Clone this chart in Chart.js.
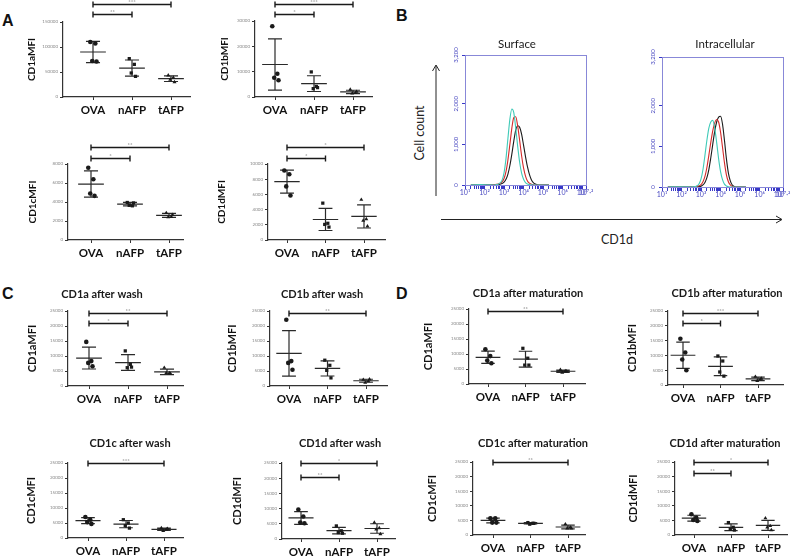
<!DOCTYPE html>
<html lang="en">
<head>
<meta charset="UTF-8">
<title>CD1 expression on DCs</title>
<script src="https://cdn.jsdelivr.net/npm/chart.js"></script>
<style>
  body { margin: 0; background: #fff; font-family: Lato, "Open Sans", sans-serif; }
  #fig { position: relative; width: 800px; height: 557px; overflow: hidden; }
  #fig canvas { position: absolute; left: 0; top: 0; }
  #fig svg { position: absolute; left: 0; top: 0; }
  .letter { position: absolute; font: bold 16px "Liberation Sans", Arial, sans-serif; line-height: 16px; color: #111; }
  .note { position: absolute; font-size: 12.5px; color: #222; white-space: nowrap; transform: translate(-50%, -50%); }
</style>
</head>
<body>
<div id="fig">
  <div class="letter" style="left:2px;top:13px">A</div>
  <div class="letter" style="left:396px;top:8px">B</div>
  <div class="letter" style="left:2px;top:286px">C</div>
  <div class="letter" style="left:396px;top:286px">D</div>
  <div class="note" style="left:419px;top:133px;transform:translate(-50%,-50%) rotate(-90deg)">Cell count</div>
  <div class="note" style="left:617px;top:239px">CD1d</div>
  <svg width="800" height="557">
    <line x1="436" y1="196" x2="436" y2="66" stroke="#222" stroke-width="1"/>
    <polyline points="432.5,71 436,65 439.5,71" fill="none" stroke="#222" stroke-width="1"/>
    <line x1="441" y1="219.5" x2="781" y2="219.5" stroke="#222" stroke-width="1"/>
    <polyline points="776,216 782,219.5 776,223" fill="none" stroke="#222" stroke-width="1"/>
  </svg>
</div>

<script>
// ---- data ----
const groups = ['OVA', 'nAFP', 'tAFP'];

// A: MFI of immature DCs
const cd1aMFI = [[110000, 107000, 72000, 71000], [76700, 65300, 48000, 41300], [43300, 38700, 34700, 30000]];
const cd1bMFI = [[27900, 9200, 7600, 6600], [9900, 4200, 3300, 3700], [2900, 1600, 1400, 2100]];
const cd1cMFI = [[7600, 6400, 4900, 4650], [3950, 3600, 3650, 3900], [2850, 2450, 2400, 2650]];
const cd1dMFI = [[9150, 8650, 7050, 5850], [4850, 2200, 2050, 1700], [5300, 2750, 2550, 1800]];

// C: after wash
const washCD1a = [[14700, 8300, 7700, 6600], [11700, 7200, 6100, 6300], [6100, 4300, 4300, 4100]];
const washCD1b = [[22100, 8300, 7700, 5400], [8600, 6900, 5200, 2700], [2100, 1600, 1100, 2200]];
const washCD1c = [[7000, 6100, 5300, 4700], [6100, 5000, 4100, 3300], [3300, 2800, 2400, 3100]];
const washCD1d = [[9700, 7400, 5400, 5200], [4300, 2700, 2100, 1900], [5400, 3600, 3200, 1600]];

// D: after maturation
const matCD1a = [[11600, 9300, 7800, 6900], [11900, 8600, 6300, 6300], [4700, 4300, 3800, 4200]];
const matCD1b = [[15600, 11000, 8600, 5000], [9800, 8100, 4400, 3000], [2800, 1900, 1400, 2200]];
const matCD1c = [[5700, 5700, 4250, 4250], [4250, 4000, 3700, 4000], [3700, 2650, 2300, 2300]];
const matCD1d = [[7100, 5950, 5150, 4800], [4250, 2650, 1950, 1700], [5750, 3100, 2650, 1700]];

// y ticks
const ticksCD1a = [0, 50000, 100000, 150000];
const ticksCD1b = [0, 10000, 20000, 30000];
const ticksCD1c = [0, 2000, 4000, 6000, 8000];
const ticksCD1d = [0, 2000, 4000, 6000, 8000, 10000];
const ticksLater = [0, 5000, 10000, 15000, 20000, 25000];

// significance brackets: [from, to, height (MFI), label]
const sigCD1a = [['OVA', 'tAFP', 186000, '***'], ['OVA', 'nAFP', 166000, '**']];
const sigCD1b = [['OVA', 'tAFP', 36700, '***'], ['OVA', 'nAFP', 32800, '*']];
const sigCD1c = [['OVA', 'tAFP', 9790, '**'], ['OVA', 'nAFP', 8630, '*']];
const sigCD1d = [['OVA', 'tAFP', 12240, '*'], ['OVA', 'nAFP', 10790, '*']];
const sigWashCD1a = [['OVA', 'tAFP', 24330, '**'], ['OVA', 'nAFP', 21000, '*']];
const sigWashCD1b = [['OVA', 'tAFP', 24330, '**']];
const sigWashCD1c = [['OVA', 'tAFP', 25000, '***']];
const sigWashCD1d = [['OVA', 'tAFP', 25000, '*'], ['OVA', 'nAFP', 20390, '**']];
const sigMatCD1a = [['OVA', 'tAFP', 24330, '**']];
const sigMatCD1b = [['OVA', 'tAFP', 24320, '***'], ['OVA', 'nAFP', 20950, '*']];
const sigMatCD1c = [['OVA', 'tAFP', 25000, '**']];
const sigMatCD1d = [['OVA', 'tAFP', 25000, '*'], ['OVA', 'nAFP', 21230, '**']];

const washTitles = ['CD1a after wash', 'CD1b after wash', 'CD1c after wash', 'CD1d after wash'];
const matTitles = ['CD1a after maturation', 'CD1b after maturation', 'CD1c after maturation', 'CD1d after maturation'];
const mfiTitles = ['CD1aMFI', 'CD1bMFI', 'CD1cMFI', 'CD1dMFI'];

// B: CD1d histograms (x = log10 fluorescence)
const histLog = [1.3, 1.8, 2.2, 2.5, 2.6, 2.7, 2.8, 2.9, 3.0, 3.1, 3.2, 3.3, 3.4, 3.5, 3.6, 3.7, 3.8, 3.9, 4.0, 4.1, 4.2, 4.3, 4.4, 4.5, 4.6, 4.7, 4.8, 4.9, 5.3];
const surfCyan  = [5, 10, 5, 0, 10, 20, 50, 120, 300, 650, 1150, 1620, 1870, 1780, 1400, 950, 560, 290, 140, 60, 25, 10, 5, 0, 0, 0, 0, 0, 0];
const surfRed   = [5, 8, 5, 5, 15, 25, 40, 80, 160, 330, 620, 1000, 1400, 1660, 1680, 1450, 1100, 720, 420, 220, 100, 45, 20, 8, 0, 0, 0, 0, 0];
const surfBlack = [0, 0, 5, 0, 5, 10, 20, 35, 70, 140, 270, 480, 760, 1080, 1350, 1460, 1420, 1250, 980, 700, 450, 260, 130, 60, 25, 8, 0, 0, 0];
const intraCyan  = [0, 5, 5, 0, 5, 10, 30, 80, 200, 430, 780, 1150, 1450, 1600, 1640, 1450, 1100, 700, 380, 180, 70, 25, 8, 0, 0, 0, 0, 0, 0];
const intraRed   = [0, 5, 5, 0, 2, 5, 15, 30, 60, 130, 260, 480, 780, 1100, 1380, 1580, 1660, 1600, 1350, 980, 600, 300, 130, 50, 15, 0, 0, 0, 0];
const intraBlack = [0, 0, 0, 0, 0, 0, 5, 10, 20, 50, 110, 230, 430, 720, 1050, 1370, 1600, 1720, 1740, 1550, 1150, 700, 350, 150, 50, 15, 0, 0, 0];
const countTicks = [0, 1000, 2000, 3200];
const decades = [1, 2, 3, 4, 5, 6, 7];

// ---- styling / layout ----
const font = 'Lato, "Open Sans", sans-serif';
const ink = '#1a1a1a';
const markers = ['circle', 'rect', 'triangle'];
const jitter = [-0.07, 0.06, -0.02, 0.09];
const curveColors = ['#3fcab8', '#d42a2a', '#1a1a1a'];
const axisBlue = '#4848c0';

Chart.defaults.font.family = font;

const layout = {
  A1: { ax: 63, top: 22, bottom: 97, right: 190, o: 93, t: 171, tx: 32 },
  A2: { ax: 255, top: 21, bottom: 97, right: 372, o: 275, t: 353, tx: 225 },
  A3: { ax: 68, top: 164, bottom: 240, right: 183, o: 91, t: 169, tx: 33 },
  A4: { ax: 268, top: 164, bottom: 240, right: 385, o: 287, t: 364, tx: 222 },
  C1: { ax: 68, top: 311, bottom: 386, right: 183, o: 89, t: 167, tx: 32, hx: 102, hy: 294 },
  C2: { ax: 270, top: 311, bottom: 386, right: 387, o: 289, t: 366, tx: 232, hx: 322, hy: 294 },
  C3: { ax: 68, top: 463, bottom: 538, right: 183, o: 88, t: 164, tx: 31, hx: 130, hy: 443 },
  C4: { ax: 282, top: 463, bottom: 539, right: 395, o: 301, t: 377, tx: 237, hx: 340, hy: 443 },
  D1: { ax: 469, top: 309, bottom: 384, right: 585, o: 488, t: 563, tx: 428, hx: 528, hy: 293 },
  D2: { ax: 668, top: 311, bottom: 385, right: 783, o: 683, t: 758, tx: 632, hx: 727, hy: 293 },
  D3: { ax: 473, top: 462, bottom: 535, right: 585, o: 493, t: 568, tx: 432, hx: 533, hy: 443 },
  D4: { ax: 675, top: 462, bottom: 535, right: 787, o: 694, t: 768, tx: 633, hx: 725, hy: 443 }
};

function addCanvas() {
  const c = document.createElement('canvas');
  c.width = 800; c.height = 557;
  document.getElementById('fig').appendChild(c);
  return c;
}

// titles, brackets, frames, rotated tick labels
function extras(o) {
  return {
    id: 'extras',
    afterDraw(chart) {
      const ctx = chart.ctx, xs = chart.scales.x, ys = chart.scales.y, a = chart.chartArea;
      ctx.save();
      if (o.box) {
        ctx.strokeStyle = o.box; ctx.lineWidth = 1;
        ctx.strokeRect(Math.round(a.left) + 0.5, Math.round(a.top) + 0.5, Math.round(a.width), Math.round(a.height));
      }
      if (o.yLabels) {
        ctx.font = '6px ' + font; ctx.fillStyle = axisBlue;
        ctx.textAlign = 'center'; ctx.textBaseline = 'middle';
        ys.ticks.forEach(t => {
          ctx.save();
          ctx.translate(a.left - 9, ys.getPixelForValue(t.value));
          ctx.rotate(-Math.PI / 2);
          ctx.fillText(t.value.toLocaleString('en-US'), 0, 0);
          ctx.restore();
        });
      }
      if (o.title) {
        ctx.font = o.titleFont; ctx.fillStyle = ink;
        ctx.textAlign = 'center'; ctx.textBaseline = 'middle';
        ctx.fillText(o.title, o.titleX, o.titleY);
      }
      (o.brackets || []).forEach(([g1, g2, v, stars]) => {
        const x1 = xs.getPixelForValue(groups.indexOf(g1) + 1);
        const x2 = xs.getPixelForValue(groups.indexOf(g2) + 1);
        const py = Math.round(ys.getPixelForValue(v)) + 0.5;
        ctx.strokeStyle = ink; ctx.lineWidth = 1.4;
        ctx.beginPath();
        ctx.moveTo(x1, py - 3); ctx.lineTo(x1, py + 3);
        ctx.moveTo(x1, py); ctx.lineTo(x2, py);
        ctx.moveTo(x2, py - 3); ctx.lineTo(x2, py + 3);
        ctx.stroke();
        ctx.font = '6px ' + font; ctx.fillStyle = '#777';
        ctx.textAlign = 'center'; ctx.textBaseline = 'bottom';
        ctx.fillText(stars, (x1 + x2) / 2, py + 1);
      });
      ctx.restore();
    }
  };
}

function drawScatter(p) {
  const s = (p.t - p.o) / 2;
  const xMin = 1 - (p.o - p.ax) / s;
  const xMax = 3 + (p.right - p.t) / s;
  const datasets = [];
  p.values.forEach((vals, g) => {
    const c = g + 1;
    const mean = vals.reduce((a, b) => a + b, 0) / vals.length;
    const sd = Math.sqrt(vals.reduce((a, b) => a + (b - mean) ** 2, 0) / (vals.length - 1));
    datasets.push({
      type: 'scatter',
      data: vals.map((v, i) => ({ x: c + jitter[i], y: v })),
      pointStyle: markers[g], pointRadius: 2.3,
      backgroundColor: ink, borderColor: ink, borderWidth: 0
    });
    datasets.push({
      type: 'line',
      data: [
        { x: c - 0.33, y: mean }, { x: c + 0.33, y: mean }, { x: c, y: null },
        { x: c - 0.18, y: mean + sd }, { x: c + 0.18, y: mean + sd }, { x: c, y: null },
        { x: c, y: mean + sd }, { x: c, y: Math.max(mean - sd, 0) }, { x: c, y: null },
        { x: c - 0.18, y: Math.max(mean - sd, 0) }, { x: c + 0.18, y: Math.max(mean - sd, 0) }
      ],
      borderColor: '#2a2a2a', borderWidth: 1.2, pointRadius: 0, fill: false, spanGaps: false
    });
  });
  const pad = p.tx - 10;
  new Chart(addCanvas(), {
    type: 'scatter',
    data: { datasets },
    options: {
      responsive: false, animation: false, events: [],
      layout: { padding: { left: pad, top: p.top, right: 800 - p.right, bottom: 557 - p.bottom - 25 } },
      plugins: { legend: { display: false }, tooltip: { enabled: false } },
      scales: {
        x: {
          type: 'linear', min: xMin, max: xMax,
          afterBuildTicks: sc => { sc.ticks = [1, 2, 3].map(v => ({ value: v })); },
          afterFit: sc => { sc.height = 25; },
          ticks: { autoSkip: false, maxRotation: 0, padding: 3, color: '#111',
                   font: { size: 11.5, weight: 'bold' }, callback: v => groups[v - 1] },
          grid: { drawOnChartArea: false, tickLength: 3, color: '#333' },
          border: { color: '#333', width: 1.2 }
        },
        y: {
          min: 0, max: p.ticks[p.ticks.length - 1],
          afterBuildTicks: sc => { sc.ticks = p.ticks.map(v => ({ value: v })); },
          afterFit: sc => { sc.width = p.ax - pad; },
          ticks: { font: { size: 4.5 }, color: '#888', padding: 2, callback: v => String(v) },
          grid: { drawOnChartArea: false, tickLength: 3, color: '#333' },
          border: { color: '#333', width: 1.2 },
          title: { display: true, text: p.yTitle, color: '#111', padding: { top: 4, bottom: 4 },
                   font: { size: p.yTitleSize, weight: 'bold' } }
        }
      }
    },
    plugins: [extras({ title: p.title, titleX: p.hx, titleY: p.hy, titleFont: 'bold 11px ' + font, brackets: p.sig })]
  });
}

function drawHist(h) {
  const logTicks = [];
  decades.forEach(d => {
    logTicks.push(d);
    if (d < 7) for (let k = 2; k <= 9; k++) logTicks.push(d + Math.log10(k));
  });
  logTicks.push(7.2);
  const sup = ['⁰', '¹', '²', '³', '⁴', '⁵', '⁶', '⁷'];
  new Chart(addCanvas(), {
    type: 'line',
    data: {
      datasets: h.curves.map((ys, k) => ({
        data: histLog.map((x, i) => ({ x, y: ys[i] })),
        borderColor: curveColors[k], borderWidth: 1.1, pointRadius: 0,
        cubicInterpolationMode: 'monotone', fill: false
      }))
    },
    options: {
      responsive: false, animation: false, events: [],
      layout: { padding: { left: h.left - 16, top: h.top, right: 800 - h.right, bottom: 557 - h.bottom - 18 } },
      plugins: { legend: { display: false }, tooltip: { enabled: false } },
      scales: {
        x: {
          type: 'linear', min: 1, max: 7.2,
          afterBuildTicks: sc => { sc.ticks = logTicks.map(v => ({ value: v })); },
          afterFit: sc => { sc.height = 18; },
          ticks: { autoSkip: false, maxRotation: 0, padding: 0, color: axisBlue, font: { size: 7 },
                   callback: v => v === 7.2 ? '10⁷·²' : (Number.isInteger(v) ? '10' + sup[v] : '') },
          grid: { drawOnChartArea: false, tickLength: 4, color: '#3838c8' },
          border: { color: '#6a6ad0' }
        },
        y: {
          min: 0, max: 3200,
          afterBuildTicks: sc => { sc.ticks = countTicks.map(v => ({ value: v })); },
          afterFit: sc => { sc.width = 16; },
          ticks: { display: false },
          grid: { drawOnChartArea: false, tickLength: 3, color: '#3838c8' },
          border: { color: '#6a6ad0' }
        }
      }
    },
    plugins: [extras({ box: '#8888d8', yLabels: true, title: h.title, titleX: h.tx, titleY: 44, titleFont: '11.5px ' + font })]
  });
}

// ---- panels ----
const panelA = [cd1aMFI, cd1bMFI, cd1cMFI, cd1dMFI];
const ticksA = [ticksCD1a, ticksCD1b, ticksCD1c, ticksCD1d];
const sigA = [sigCD1a, sigCD1b, sigCD1c, sigCD1d];
const panelC = [washCD1a, washCD1b, washCD1c, washCD1d];
const sigC = [sigWashCD1a, sigWashCD1b, sigWashCD1c, sigWashCD1d];
const panelD = [matCD1a, matCD1b, matCD1c, matCD1d];
const sigD = [sigMatCD1a, sigMatCD1b, sigMatCD1c, sigMatCD1d];

panelA.forEach((vals, i) => drawScatter(Object.assign({
  values: vals, ticks: ticksA[i], sig: sigA[i], yTitle: mfiTitles[i], yTitleSize: 10
}, layout['A' + (i + 1)])));
panelC.forEach((vals, i) => drawScatter(Object.assign({
  values: vals, ticks: ticksLater, sig: sigC[i], yTitle: mfiTitles[i], yTitleSize: 11, title: washTitles[i]
}, layout['C' + (i + 1)])));
panelD.forEach((vals, i) => drawScatter(Object.assign({
  values: vals, ticks: ticksLater, sig: sigD[i], yTitle: mfiTitles[i], yTitleSize: 11, title: matTitles[i]
}, layout['D' + (i + 1)])));

drawHist({ title: 'Surface', tx: 517, left: 465, right: 586, top: 55, bottom: 185, curves: [surfCyan, surfRed, surfBlack] });
drawHist({ title: 'Intracellular', tx: 725, left: 662, right: 783, top: 57, bottom: 187, curves: [intraCyan, intraRed, intraBlack] });
</script>
</body>
</html>
